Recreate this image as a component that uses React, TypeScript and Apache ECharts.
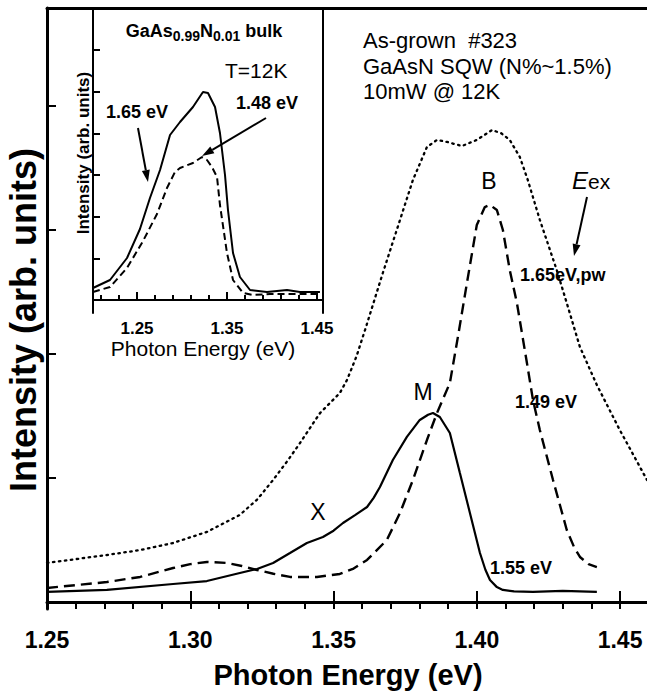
import React, { useEffect, useRef } from 'react';
import * as echarts from 'echarts';

// ---------- Main panel data (Photon energy eV, intensity arb. units) ----------
const pwEnergy = [1.250, 1.2709, 1.2825, 1.2940, 1.3058, 1.3173, 1.3235, 1.3289, 1.3340, 1.3383, 1.3453, 1.3522, 1.3547, 1.3580, 1.3610, 1.3672, 1.3732, 1.3777, 1.3826, 1.3861, 1.3896, 1.3948, 1.4000, 1.4053, 1.4085, 1.4115, 1.4150, 1.4178, 1.4220, 1.4279, 1.4314, 1.4360, 1.4419, 1.4499, 1.4594];
const pwIntensity = [0.315, 0.379, 0.419, 0.476, 0.565, 0.702, 0.830, 0.984, 1.140, 1.282, 1.524, 1.685, 1.790, 1.980, 2.194, 2.653, 3.081, 3.403, 3.669, 3.726, 3.710, 3.677, 3.726, 3.806, 3.780, 3.726, 3.589, 3.403, 3.081, 2.677, 2.411, 2.056, 1.750, 1.387, 0.984];

const ev155Energy = [1.250, 1.2709, 1.2940, 1.3058, 1.3173, 1.3233, 1.3289, 1.3348, 1.3407, 1.3463, 1.3500, 1.3533, 1.3575, 1.3617, 1.3640, 1.3662, 1.3707, 1.3756, 1.3801, 1.3830, 1.3847, 1.3871, 1.3906, 1.3941, 1.3976, 1.4011, 1.4030, 1.4046, 1.4070, 1.4091, 1.4130, 1.4196, 1.4300, 1.4419];
const ev155Intensity = [0.081, 0.097, 0.145, 0.169, 0.234, 0.266, 0.315, 0.395, 0.476, 0.524, 0.575, 0.637, 0.700, 0.766, 0.840, 0.927, 1.145, 1.331, 1.468, 1.510, 1.524, 1.492, 1.363, 1.040, 0.718, 0.395, 0.260, 0.177, 0.120, 0.097, 0.085, 0.081, 0.089, 0.081];

const ev149Energy = [1.250, 1.2709, 1.2825, 1.2940, 1.3000, 1.3058, 1.3128, 1.3180, 1.3233, 1.3290, 1.3348, 1.3442, 1.3522, 1.3570, 1.3617, 1.3686, 1.3732, 1.3777, 1.3826, 1.3861, 1.3906, 1.3935, 1.3965, 1.4000, 1.4028, 1.4046, 1.4070, 1.4091, 1.4115, 1.4140, 1.4175, 1.4196, 1.4220, 1.4266, 1.4314, 1.4340, 1.4360, 1.4390, 1.4419];
const ev149Intensity = [0.113, 0.161, 0.202, 0.274, 0.305, 0.323, 0.315, 0.290, 0.258, 0.228, 0.202, 0.202, 0.226, 0.270, 0.339, 0.500, 0.718, 0.984, 1.306, 1.524, 1.766, 2.150, 2.565, 3.040, 3.185, 3.202, 3.161, 3.000, 2.677, 2.411, 1.927, 1.629, 1.387, 0.984, 0.581, 0.440, 0.363, 0.305, 0.282];

const mainMajorTicks = [1.25, 1.30, 1.35, 1.40, 1.45];
const mainMinorTicks = [1.25, 1.26, 1.27, 1.28, 1.29, 1.30, 1.31, 1.32, 1.33, 1.34, 1.35, 1.36, 1.37, 1.38, 1.39, 1.40, 1.41, 1.42, 1.43, 1.44, 1.45];
const mainYTicks = [0, 1, 2, 3, 4];

// ---------- Inset data (GaAs0.99N0.01 bulk, T=12K) ----------
const inset165Energy = [1.2011, 1.2200, 1.2389, 1.2533, 1.2644, 1.2756, 1.2867, 1.2978, 1.3122, 1.3233, 1.3289, 1.3367, 1.3422, 1.3478, 1.3511, 1.3567, 1.3644, 1.3756, 1.3944, 1.4167, 1.4311, 1.4533];
const inset165Intensity = [0.288, 0.480, 1.008, 1.704, 2.448, 3.120, 3.960, 4.272, 4.632, 4.992, 4.968, 4.632, 4.008, 3.000, 2.160, 1.128, 0.552, 0.240, 0.192, 0.240, 0.192, 0.192];

const inset148Energy = [1.2011, 1.2200, 1.2389, 1.2567, 1.2722, 1.2833, 1.2922, 1.2978, 1.3122, 1.3222, 1.3278, 1.3333, 1.3389, 1.3422, 1.3500, 1.3567, 1.3678, 1.3789, 1.3978, 1.4533];
const inset148Intensity = [0.192, 0.312, 0.768, 1.416, 2.064, 2.688, 3.072, 3.168, 3.288, 3.432, 3.360, 3.192, 2.952, 2.280, 1.128, 0.480, 0.168, 0.120, 0.144, 0.144];

const insetMajorTicks = [1.25, 1.35, 1.45];
const insetMinorTicks = [1.21, 1.23, 1.25, 1.27, 1.29, 1.31, 1.33, 1.35, 1.37, 1.39, 1.41, 1.43, 1.45];
const insetYTicks = [0, 1, 2, 3, 4, 5, 6];

const zip = (xs: number[], ys: number[]) => xs.map((x, i) => [x, ys[i]]);

const FONT = 'Liberation Sans, Arial, Helvetica, sans-serif';

function arrow(x1: number, y1: number, x2: number, y2: number, head = 12, half = 4) {
  const dx = x2 - x1, dy = y2 - y1;
  const len = Math.sqrt(dx * dx + dy * dy);
  const ux = dx / len, uy = dy / len;
  const bx = x2 - ux * head, by = y2 - uy * head;
  const px = -uy * half, py = ux * half;
  return [
    { type: 'line', shape: { x1, y1, x2: bx, y2: by }, style: { stroke: '#000', lineWidth: 2 }, z: 100 },
    { type: 'polygon', shape: { points: [[x2, y2], [bx + px, by + py], [bx - px, by - py]] }, style: { fill: '#000' }, z: 100 },
  ];
}

function txt(x: number, y: number, text: string, size: number, bold: boolean, align = 'left', extra: any = {}) {
  return {
    type: 'text', x, y, z: 100,
    style: {
      text, fontSize: size, fontWeight: bold ? 'bold' : 'normal', fontFamily: FONT, fill: '#000',
      textAlign: align, textVerticalAlign: 'middle', ...extra,
    },
  };
}

const black = '#000';

export default function App() {
  const ref = useRef<HTMLDivElement>(null);
  useEffect(() => {
    if (!ref.current) return;
    const chart = echarts.init(ref.current, undefined, { renderer: 'svg' });
    const tickStyle = { color: black, width: 2 };
    const option: any = {
      animation: false,
      backgroundColor: '#fff',
      grid: [
        { left: 47, top: 8, right: 0, bottom: 89 },
        { left: 93, top: 8, width: 230, height: 305 },
      ],
      xAxis: [
        {
          gridIndex: 0, type: 'value', min: 1.25, max: 1.4594, position: 'bottom',
          axisLine: { lineStyle: { color: black, width: 3 } },
          axisTick: { inside: true, length: 11, lineStyle: tickStyle, customValues: mainMajorTicks },
          axisLabel: { customValues: mainMajorTicks, formatter: (v: number) => v.toFixed(2), fontSize: 23, fontWeight: 'bold', color: black, fontFamily: FONT, margin: 19 },
          splitLine: { show: false },
        },
        {
          gridIndex: 0, type: 'value', min: 1.25, max: 1.4594, position: 'bottom',
          axisLine: { show: false },
          axisTick: { inside: true, length: 6, lineStyle: tickStyle, customValues: mainMinorTicks },
          axisLabel: { show: false }, splitLine: { show: false },
        },
        {
          gridIndex: 0, type: 'value', min: 1.25, max: 1.4594, position: 'top',
          axisLine: { lineStyle: { color: black, width: 3 } },
          axisTick: { show: false }, axisLabel: { show: false }, splitLine: { show: false },
        },
        {
          gridIndex: 1, type: 'value', min: 1.2011, max: 1.4567, position: 'bottom',
          axisLine: { lineStyle: { color: black, width: 2 } },
          axisTick: { inside: true, length: 8, lineStyle: tickStyle, customValues: insetMajorTicks },
          axisLabel: { customValues: insetMajorTicks, formatter: (v: number) => v.toFixed(2), fontSize: 17, fontWeight: 'bold', color: black, fontFamily: FONT, margin: 7 },
          splitLine: { show: false },
        },
        {
          gridIndex: 1, type: 'value', min: 1.2011, max: 1.4567, position: 'bottom',
          axisLine: { show: false },
          axisTick: { inside: true, length: 5, lineStyle: tickStyle, customValues: insetMinorTicks },
          axisLabel: { show: false }, splitLine: { show: false },
        },
      ],
      yAxis: [
        {
          gridIndex: 0, type: 'value', min: -0.0565, max: 4.79, position: 'left',
          axisLine: { show: true, lineStyle: { color: black, width: 3 } },
          axisTick: { show: true, inside: true, length: 9, lineStyle: tickStyle, customValues: mainYTicks },
          axisLabel: { show: false }, splitLine: { show: false },
        },
        {
          gridIndex: 1, type: 'value', min: -0.312, max: 7.008, position: 'left',
          axisLine: { show: true, lineStyle: { color: black, width: 2 } },
          axisTick: { show: true, inside: true, length: 7, lineStyle: tickStyle, customValues: insetYTicks },
          axisLabel: { show: false }, splitLine: { show: false },
        },
        {
          gridIndex: 1, type: 'value', min: -0.312, max: 7.008, position: 'right',
          axisLine: { show: true, lineStyle: { color: black, width: 2 } },
          axisTick: { show: false }, axisLabel: { show: false }, splitLine: { show: false },
        },
      ],
      series: [
        {
          name: '1.65eV,pw', type: 'line', xAxisIndex: 0, yAxisIndex: 0, data: zip(pwEnergy, pwIntensity),
          showSymbol: false, smooth: false,
          lineStyle: { color: black, width: 2.3, type: [1.5, 4.5], cap: 'round' },
        },
        {
          name: '1.55 eV', type: 'line', xAxisIndex: 0, yAxisIndex: 0, data: zip(ev155Energy, ev155Intensity),
          showSymbol: false, smooth: false,
          lineStyle: { color: black, width: 2.2, type: 'solid' },
        },
        {
          name: '1.49 eV', type: 'line', xAxisIndex: 0, yAxisIndex: 0, data: zip(ev149Energy, ev149Intensity),
          showSymbol: false, smooth: false,
          lineStyle: { color: black, width: 2.4, type: [11, 6] },
        },
        {
          name: 'inset 1.65 eV', type: 'line', xAxisIndex: 3, yAxisIndex: 1, data: zip(inset165Energy, inset165Intensity),
          showSymbol: false, smooth: false,
          lineStyle: { color: black, width: 2, type: 'solid' },
        },
        {
          name: 'inset 1.48 eV', type: 'line', xAxisIndex: 3, yAxisIndex: 1, data: zip(inset148Energy, inset148Intensity),
          showSymbol: false, smooth: false,
          lineStyle: { color: black, width: 2, type: [7, 4] },
        },
      ],
      graphic: [
        // axis titles
        txt(348, 675, 'Photon Energy (eV)', 29, true, 'center'),
        { ...txt(23, 320, 'Intensity (arb. units)', 36, true, 'center'), rotation: Math.PI / 2 },
        // inset titles
        txt(203, 348, 'Photon Energy (eV)', 21, false, 'center'),
        { ...txt(83, 153, 'Intensity (arb. units)', 17, true, 'center'), rotation: Math.PI / 2 },
        {
          type: 'text', x: 204, y: 31, z: 100,
          style: {
            text: '{b|GaAs}{s|0.99}{b|N}{s|0.01}{b| bulk}',
            textAlign: 'center', textVerticalAlign: 'middle', fill: '#000',
            rich: {
              b: { fontSize: 18, fontWeight: 'bold', fontFamily: FONT, lineHeight: 24, verticalAlign: 'middle' },
              s: { fontSize: 14, fontWeight: 'bold', fontFamily: FONT, lineHeight: 24, padding: [10, 0, 0, 0], verticalAlign: 'middle' },
            },
          },
        },
        txt(225, 70, 'T=12K', 21, false, 'left'),
        txt(106, 112, '1.65 eV', 18, true, 'left'),
        txt(236, 103, '1.48 eV', 18, true, 'left'),
        ...arrow(138, 128, 148, 182),
        ...arrow(266, 118, 202, 156),
        // main annotations
        txt(363, 40, 'As-grown\u00a0\u00a0#323', 22, false, 'left'),
        txt(363, 66, 'GaAsN SQW (N%~1.5%)', 22, false, 'left'),
        txt(363, 91, '10mW @ 12K', 22, false, 'left'),
        txt(489, 181, 'B', 23, false, 'center'),
        txt(423, 392, 'M', 23, false, 'center'),
        txt(318, 512, 'X', 23, false, 'center'),
        {
          type: 'text', x: 572, y: 180, z: 100,
          style: {
            text: '{e|E}{x|ex}', textAlign: 'left', textVerticalAlign: 'middle', fill: '#000',
            rich: {
              e: { fontSize: 24, fontStyle: 'italic', fontFamily: FONT },
              x: { fontSize: 21, fontFamily: FONT, padding: [3, 0, 0, 0] },
            },
          },
        },
        ...arrow(587, 197, 574, 256),
        txt(520, 275, '1.65eV,pw', 18, true, 'left'),
        txt(515, 402, '1.49 eV', 18, true, 'left'),
        txt(490, 568, '1.55 eV', 18, true, 'left'),
      ],
    };
    chart.setOption(option);
    return () => chart.dispose();
  }, []);
  return <div ref={ref} style={{ position: 'absolute', left: 0, top: 0, width: 647, height: 698 }} />;
}
